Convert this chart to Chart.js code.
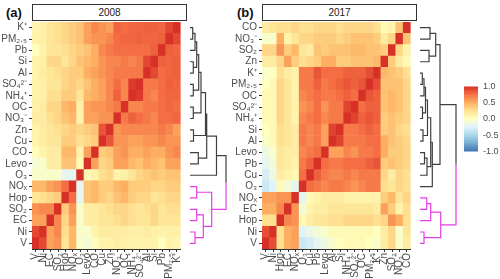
<!DOCTYPE html>
<html>
<head>
<meta charset="utf-8">
<script src="https://cdn.jsdelivr.net/npm/chart.js@4"></script>
<style>
    body { margin: 0; background: #fff; }
    #wrap { position: relative; width: 500px; height: 279px; overflow: hidden; font-family: "Liberation Sans", Arial, sans-serif; }
    .box { position: absolute; }
    .tag { position: absolute; font-weight: bold; font-size: 13px; color: #111; }
    .strip { position: absolute; top: 4px; height: 15px; border: 1px solid #333; background: #fff;
             font-size: 10px; line-height: 15px; text-align: center; color: #1a1a1a; }
</style>
</head>
<body>
<div id="wrap">
    <div class="tag" style="left:6px;top:5px">(a)</div>
    <div class="tag" style="left:237px;top:5px">(b)</div>
    <div class="strip" style="left:32px;width:153px">2008</div>
    <div class="strip" style="left:262px;width:153px">2017</div>
    <div class="box" style="left:0;top:0;width:190px;height:279px"><canvas id="heat-a"></canvas></div>
    <div class="box" style="left:230px;top:0;width:190px;height:279px"><canvas id="heat-b"></canvas></div>
    <div class="box" style="left:190px;top:22px;width:42px;height:227px"><canvas id="dend-a"></canvas></div>
    <div class="box" style="left:420px;top:22px;width:42px;height:227px"><canvas id="dend-b"></canvas></div>
    <div class="box" style="left:458px;top:76px;width:42px;height:86px"><canvas id="colorbar"></canvas></div>
</div>
<script>
// variable order, bottom-to-top = left-to-right
const varsA = ['V', 'Ni', 'EC', 'SO₂', 'Hop', 'NOₓ', 'O₃', 'Levo', 'CO', 'Cu', 'Zn', 'NO₃⁻', 'OC', 'NH₄⁺', 'SO₄²⁻', 'Al', 'Si', 'Pb', 'PM₂.₅', 'K⁺'];
const varsB = ['V', 'Ni', 'Hop', 'EC', 'NOₓ', 'O₃', 'Cu', 'Pb', 'Levo', 'Al', 'Si', 'NH₄⁺', 'SO₄²⁻', 'OC', 'PM₂.₅', 'K⁺', 'Zn', 'SO₂', 'NO₃⁻', 'CO'];

// lower triangle of the correlation matrix (row i, columns 0..i-1)
const corrA = [
    [],
    [0.9],
    [0.55, 0.55],
    [0.6, 0.65, 0.65],
    [0.2, 0.25, 0.3, 0.35],
    [0.45, 0.45, 0.55, 0.6, 0.75],
    [-0.05, -0.05, -0.05, -0.05, -0.2, -0.2],
    [-0.1, -0.05, 0.15, 0.15, 0.4, 0.4, 0.05],
    [0.02, 0.1, 0.15, 0.15, 0.45, 0.45, 0.1, 0.55],
    [0.1, 0.15, 0.2, 0.2, 0.35, 0.35, 0.25, 0.3, 0.35],
    [0.1, 0.15, 0.2, 0.25, 0.3, 0.35, 0.3, 0.35, 0.4, 0.85],
    [0.15, 0.15, 0.25, 0.3, 0.4, 0.45, 0.1, 0.55, 0.55, 0.6, 0.6],
    [0.12, 0.15, 0.3, 0.3, 0.45, 0.5, 0.12, 0.55, 0.6, 0.6, 0.65, 0.7],
    [0.1, 0.12, 0.25, 0.25, 0.35, 0.35, 0.2, 0.45, 0.5, 0.55, 0.65, 0.8, 0.65],
    [0.1, 0.12, 0.2, 0.2, 0.3, 0.35, 0.3, 0.4, 0.5, 0.55, 0.65, 0.75, 0.65, 0.95],
    [0.1, 0.15, 0.2, 0.25, 0.3, 0.35, 0.35, 0.5, 0.55, 0.6, 0.65, 0.7, 0.7, 0.7, 0.7],
    [0.1, 0.12, 0.3, 0.3, 0.2, 0.3, 0.4, 0.45, 0.5, 0.6, 0.65, 0.65, 0.7, 0.65, 0.7, 0.9],
    [0.0, 0.1, 0.2, 0.2, 0.25, 0.3, 0.35, 0.4, 0.5, 0.65, 0.7, 0.75, 0.75, 0.75, 0.75, 0.75, 0.8],
    [0.1, 0.12, 0.2, 0.25, 0.3, 0.35, 0.4, 0.55, 0.6, 0.6, 0.65, 0.75, 0.78, 0.78, 0.8, 0.78, 0.78, 0.8],
    [0.08, 0.12, 0.2, 0.25, 0.3, 0.35, 0.4, 0.55, 0.65, 0.6, 0.55, 0.78, 0.75, 0.78, 0.78, 0.8, 0.8, 0.78, 0.9]
];

const corrB = [
    [],
    [0.88],
    [0.25, 0.25],
    [0.5, 0.5, 0.65],
    [0.55, 0.55, 0.6, 0.6],
    [-0.35, -0.25, 0.05, -0.1, -0.2],
    [-0.3, -0.15, 0.15, 0.1, 0.05, 0.75],
    [-0.2, -0.1, 0.2, 0.15, 0.1, 0.7, 0.8],
    [-0.15, -0.05, 0.2, 0.15, 0.15, 0.65, 0.7, 0.75],
    [-0.05, 0.05, 0.25, 0.2, 0.15, 0.7, 0.65, 0.7, 0.55],
    [0.0, 0.05, 0.25, 0.2, 0.15, 0.7, 0.65, 0.7, 0.55, 0.92],
    [0.05, 0.05, 0.3, 0.2, 0.1, 0.65, 0.7, 0.75, 0.65, 0.7, 0.7],
    [0.05, 0.05, 0.3, 0.2, 0.1, 0.6, 0.65, 0.75, 0.6, 0.7, 0.7, 0.92],
    [0.05, 0.05, 0.3, 0.2, 0.1, 0.65, 0.7, 0.75, 0.7, 0.7, 0.75, 0.8, 0.75],
    [0.0, 0.05, 0.3, 0.2, 0.1, 0.7, 0.7, 0.8, 0.7, 0.75, 0.8, 0.85, 0.8, 0.85],
    [-0.05, 0.0, 0.25, 0.15, 0.1, 0.7, 0.7, 0.85, 0.75, 0.75, 0.75, 0.8, 0.8, 0.8, 0.88],
    [0.15, 0.15, 0.3, 0.55, 0.35, 0.25, 0.3, 0.35, 0.5, 0.5, 0.35, 0.35, 0.4, 0.4, 0.4, 0.45],
    [0.3, 0.3, 0.6, 0.35, 0.45, 0.2, 0.15, 0.4, 0.35, 0.4, 0.4, 0.4, 0.45, 0.45, 0.4, 0.4, 0.35],
    [-0.05, -0.05, 0.5, 0.1, 0.2, 0.3, 0.3, 0.35, 0.35, 0.35, 0.3, 0.35, 0.4, 0.4, 0.4, 0.35, 0.15, 0.3],
    [0.15, 0.2, 0.25, 0.25, 0.3, 0.25, 0.25, 0.3, 0.3, 0.3, 0.25, 0.3, 0.3, 0.3, 0.3, 0.25, 0.05, 0.1, 0.4]
];

// hierarchical clustering merges: [node, left, right, height]
const dendA = [
    ['a1', 'K⁺', 'PM₂.₅', 0.27],
    ['a2', 'a1', 'Pb', 0.5],
    ['a3', 'Si', 'Al', 0.33],
    ['a4', 'a2', 'a3', 0.67],
    ['a5', 'SO₄²⁻', 'NH₄⁺', 0.33],
    ['a6', 'a4', 'a5', 0.87],
    ['a7', 'OC', 'NO₃⁻', 0.33],
    ['a8', 'a6', 'a7', 1.1],
    ['a9', 'Zn', 'Cu', 0.35],
    ['a10', 'a8', 'a9', 1.55],
    ['a11', 'CO', 'Levo', 0.83],
    ['a12', 'a10', 'a11', 1.67],
    ['a13', 'a12', 'O₃', 2.65],
    ['m1', 'NOₓ', 'Hop', 0.67],
    ['m2', 'SO₂', 'EC', 0.67],
    ['m3', 'Ni', 'V', 0.5],
    ['m4', 'm2', 'm3', 1.33],
    ['m5', 'm1', 'm4', 2.17],
    ['root', 'a13', 'm5', 3.6]
];

const dendB = [
    ['b1', 'CO', 'NO₃⁻', 1.0],
    ['b2', 'SO₂', 'Zn', 0.9],
    ['b3', 'b1', 'b2', 1.57],
    ['b4', 'K⁺', 'PM₂.₅', 0.23],
    ['b5', 'b4', 'OC', 0.4],
    ['b6', 'SO₄²⁻', 'NH₄⁺', 0.25],
    ['b7', 'b5', 'b6', 0.55],
    ['b8', 'Si', 'Al', 0.3],
    ['b9', 'b7', 'b8', 0.75],
    ['b10', 'Levo', 'Pb', 0.45],
    ['b11', 'b10', 'Cu', 0.7],
    ['b12', 'b9', 'b11', 1.07],
    ['b13', 'b12', 'O₃', 1.23],
    ['b14', 'b3', 'b13', 2.0],
    ['m1', 'NOₓ', 'EC', 0.67],
    ['m2', 'm1', 'Hop', 1.07],
    ['m3', 'Ni', 'V', 0.4],
    ['m4', 'm2', 'm3', 2.07],
    ['root', 'b14', 'm4', 3.6]
];

const colorbarTicks = [-1, -0.5, 0, 0.5, 1];

// RdYlBu, blue (-1) to red (+1)
const palette = ['#4575b4', '#74add1', '#abd9e9', '#e0f3f8', '#ffffbf', '#fee090', '#fdae61', '#f46d43', '#d73027'];
const clusterColors = ['#404040', '#e43fe4'];

Chart.defaults.font.family = '"Liberation Sans", Arial, sans-serif';
Chart.defaults.color = '#4d4d4d';
Chart.defaults.animation = false;

function hexToRgb(h) {
    return [1, 3, 5].map(i => parseInt(h.slice(i, i + 2), 16));
}

function corrColor(v) {
    const t = (Math.max(-1, Math.min(1, v)) + 1) / 2 * (palette.length - 1);
    const i = Math.min(palette.length - 2, Math.floor(t));
    const f = t - i;
    const a = hexToRgb(palette[i]);
    const b = hexToRgb(palette[i + 1]);
    const c = a.map((x, k) => Math.round(x + (b[k] - x) * f));
    return `rgb(${c[0]},${c[1]},${c[2]})`;
}

function fullValue(lower, i, j) {
    if (i === j) return 1;
    return i > j ? lower[i][j] : lower[j][i];
}

function makeHeatmap(id, vars, lower) {
    const datasets = vars.map((name, i) => ({
        label: name,
        data: vars.map(() => 1),
        backgroundColor: vars.map((_, j) => corrColor(fullValue(lower, i, j))),
        borderWidth: 0,
        barPercentage: 1,
        categoryPercentage: 1
    }));

    new Chart(document.getElementById(id), {
        type: 'bar',
        data: { labels: vars, datasets: datasets },
        options: {
            responsive: true,
            maintainAspectRatio: false,
            layout: { padding: { top: 22, right: 3, left: 0, bottom: 0 } },
            plugins: { legend: { display: false }, tooltip: { enabled: false } },
            scales: {
                x: {
                    stacked: true,
                    grid: { offset: false, drawOnChartArea: false, tickLength: 3, color: '#333' },
                    border: { display: true, color: '#333' },
                    ticks: { autoSkip: false, minRotation: 90, maxRotation: 90, padding: 1, font: { size: 10 } },
                    afterFit: s => { s.height = 30; }
                },
                y: {
                    type: 'linear',
                    stacked: true,
                    min: 0,
                    max: vars.length,
                    grid: { drawOnChartArea: false, tickLength: 3, color: '#333' },
                    border: { display: true, color: '#333' },
                    afterBuildTicks: s => { s.ticks = vars.map((_, i) => ({ value: i + 0.5 })); },
                    ticks: {
                        autoSkip: false,
                        padding: 2,
                        font: { size: 10 },
                        callback: v => vars[Math.floor(v)]
                    },
                    afterFit: s => { s.width = 32; }
                }
            }
        }
    });
}

function dendLines(merges, vars) {
    const pos = {};
    const kids = {};
    vars.forEach((v, i) => { pos[v] = { x: 0, y: i + 0.5 }; });
    merges.forEach(([id, l, r, h]) => {
        pos[id] = { x: h, y: (pos[l].y + pos[r].y) / 2 };
        kids[id] = [l, r];
    });
    const root = merges[merges.length - 1];
    const group = {};
    const paint = (n, g) => { group[n] = g; (kids[n] || []).forEach(k => paint(k, g)); };
    paint(root[1], 0);
    paint(root[2], 1);

    const lines = [[], []];
    merges.forEach(([id, l, r, h]) => {
        [l, r].forEach(k => {
            const p = pos[k];
            lines[group[k]].push({ x: p.x, y: p.y }, { x: h, y: p.y }, { x: h, y: pos[id].y }, { x: h, y: NaN });
        });
    });
    return lines;
}

function makeDendrogram(id, merges, vars) {
    const lines = dendLines(merges, vars);
    new Chart(document.getElementById(id), {
        type: 'scatter',
        data: {
            datasets: lines.map((pts, g) => ({
                data: pts,
                showLine: true,
                spanGaps: false,
                borderColor: clusterColors[g],
                borderWidth: 1.2,
                pointRadius: 0,
                clip: false
            }))
        },
        options: {
            responsive: true,
            maintainAspectRatio: false,
            layout: { padding: 0 },
            plugins: { legend: { display: false }, tooltip: { enabled: false } },
            scales: {
                x: { type: 'linear', min: 0, max: 4.2, display: false },
                y: { type: 'linear', min: 0, max: vars.length, display: false }
            }
        }
    });
}

function makeColorbar(id) {
    const steps = 50;
    const w = 2 / steps;
    const datasets = [];
    for (let k = 0; k < steps; k++) {
        const lo = -1 + k * w;
        datasets.push({
            data: [[lo, lo + w]],
            backgroundColor: corrColor(lo + w / 2),
            borderWidth: 0,
            barPercentage: 1,
            categoryPercentage: 1,
            grouped: false
        });
    }
    new Chart(document.getElementById(id), {
        type: 'bar',
        data: { labels: ['r'], datasets: datasets },
        options: {
            responsive: true,
            maintainAspectRatio: false,
            layout: { padding: { top: 5, bottom: 5, left: 6, right: 0 } },
            plugins: { legend: { display: false }, tooltip: { enabled: false } },
            scales: {
                x: { display: false },
                y: {
                    position: 'right',
                    min: -1,
                    max: 1,
                    grid: { display: false, drawTicks: false },
                    border: { display: false },
                    afterBuildTicks: s => { s.ticks = colorbarTicks.map(v => ({ value: v })); },
                    ticks: { padding: 5, font: { size: 9 }, callback: v => Number(v).toFixed(1) },
                    afterFit: s => { s.width = 22; }
                }
            }
        }
    });
}

makeHeatmap('heat-a', varsA, corrA);
makeHeatmap('heat-b', varsB, corrB);
makeDendrogram('dend-a', dendA, varsA);
makeDendrogram('dend-b', dendB, varsB);
makeColorbar('colorbar');
</script>
</body>
</html>
